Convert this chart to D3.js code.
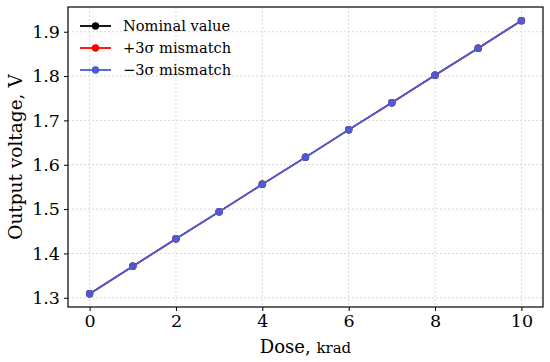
<!DOCTYPE html>
<html>
<head>
<meta charset="utf-8">
<script src="https://cdn.jsdelivr.net/npm/d3@7.9.0/dist/d3.min.js"></script>
<style>
  body { margin: 0; background: #fff; }
  svg { display: block; font-family: "DejaVu Serif", serif; }
</style>
</head>
<body>
<svg id="chart" width="550" height="362"></svg>
<script>
// ---- data ----
const dose = [0, 1, 2, 3, 4, 5, 6, 7, 8, 9, 10];
const nominal = [1.309, 1.371, 1.433, 1.494, 1.556, 1.617, 1.679, 1.740, 1.802, 1.863, 1.925];
const plus3 = [1.309, 1.371, 1.433, 1.494, 1.556, 1.617, 1.679, 1.740, 1.802, 1.863, 1.925];
const minus3 = [1.309, 1.371, 1.433, 1.494, 1.556, 1.617, 1.679, 1.740, 1.802, 1.863, 1.925];
const xTicks = [0, 2, 4, 6, 8, 10];
const yTicks = [1.3, 1.4, 1.5, 1.6, 1.7, 1.8, 1.9];

const series = [
  { name: 'Nominal value', values: nominal, color: '#000000', w: 1.4 },
  { name: '+3σ mismatch', values: plus3, color: '#ff0000', w: 1.4 },
  { name: '\u22123σ mismatch', values: minus3, color: '#4a5bd6', w: 1.8 },
];

// ---- layout ----
const svg = d3.select('#chart');
const m = { left: 68, right: 543, top: 7, bottom: 307 };

const x = d3.scaleLinear().domain([-0.5, 10.5]).range([m.left, m.right]);
const y = d3.scaleLinear().domain([1.2792, 1.9558]).range([m.bottom, m.top]);

// grid
const grid = svg.append('g').attr('stroke', '#cfcfcf').attr('stroke-width', 0.8)
  .attr('stroke-dasharray', '2,2');
grid.selectAll('.gx').data(xTicks).join('line')
  .attr('x1', d => x(d)).attr('x2', d => x(d))
  .attr('y1', m.top).attr('y2', m.bottom);
grid.selectAll('.gy').data(yTicks).join('line')
  .attr('x1', m.left).attr('x2', m.right)
  .attr('y1', d => y(d)).attr('y2', d => y(d));

// axes
const xAxis = svg.append('g').attr('transform', `translate(0,${m.bottom})`)
  .call(d3.axisBottom(x).tickValues(xTicks).tickSize(4).tickPadding(4).tickFormat(d3.format('d')));
const yAxis = svg.append('g').attr('transform', `translate(${m.left},0)`)
  .call(d3.axisLeft(y).tickValues(yTicks).tickSize(4).tickPadding(4).tickFormat(d3.format('.1f')));
[xAxis, yAxis].forEach(a => {
  a.select('.domain').remove();
  a.selectAll('.tick line').attr('stroke', '#000').attr('stroke-width', 1);
  a.selectAll('.tick text').attr('font-family', '"DejaVu Serif", serif')
    .attr('font-size', 17.5).attr('fill', '#000');
});

// lines + markers
const line = d3.line().x((d, i) => x(dose[i])).y(d => y(d));
series.forEach(s => {
  svg.append('path').datum(s.values)
    .attr('fill', 'none').attr('stroke', s.color).attr('stroke-width', s.w)
    .attr('d', line);
  svg.append('g').selectAll('circle').data(s.values).join('circle')
    .attr('cx', (d, i) => x(dose[i])).attr('cy', d => y(d))
    .attr('r', 3.7).attr('fill', s.color);
});

// frame
svg.append('rect')
  .attr('x', m.left).attr('y', m.top)
  .attr('width', m.right - m.left).attr('height', m.bottom - m.top)
  .attr('fill', 'none').attr('stroke', '#000').attr('stroke-width', 1.2);

// legend
const leg = svg.append('g').attr('transform', 'translate(80,26)');
series.forEach((s, i) => {
  const g = leg.append('g').attr('transform', `translate(0,${i * 22})`);
  g.append('line').attr('x1', 0).attr('x2', 31).attr('stroke', s.color).attr('stroke-width', 1.8);
  g.append('circle').attr('cx', 15.5).attr('r', 3.7).attr('fill', s.color);
  g.append('text').attr('x', 43).attr('dy', '0.35em')
    .attr('font-size', 14.6).text(s.name);
});

// axis labels
const xl = svg.append('text').attr('x', (m.left + m.right) / 2).attr('y', 353)
  .attr('text-anchor', 'middle').attr('font-size', 18);
xl.append('tspan').text('Dose, ');
xl.append('tspan').attr('font-size', 15).text('krad');

svg.append('text')
  .attr('transform', `translate(22,${(m.top + m.bottom) / 2}) rotate(-90)`)
  .attr('text-anchor', 'middle').attr('font-size', 18.5)
  .text('Output voltage, V');
</script>
</body>
</html>
